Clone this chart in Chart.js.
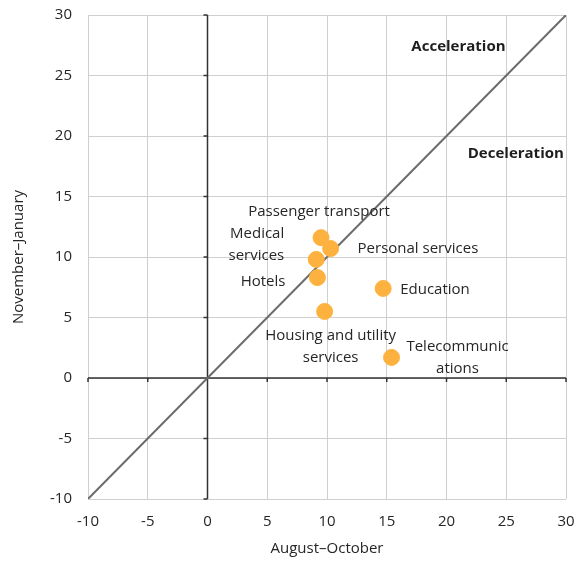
<!DOCTYPE html>
<html>
<head>
<meta charset="utf-8">
<script src="https://cdn.jsdelivr.net/npm/chart.js@4"></script>
<style>
  html, body { margin: 0; padding: 0; background: #fff; }
  #wrap { width: 576px; height: 561px; }
</style>
</head>
<body>
<div id="wrap"><canvas id="myChart"></canvas></div>
<script>
// sectors, Aug-Oct vs Nov-Jan
var sectors = ["Passenger transport", "Personal services", "Medical services", "Hotels",
    "Housing and utility services", "Education", "Telecommunications"];
var augOct = [9.5, 10.3, 9.1, 9.2, 9.8, 14.7, 15.4];
var novJan = [11.6, 10.7, 9.8, 8.3, 5.5, 7.4, 1.7];
var diagX = [-10, 30];
var axisTicks = [-10, -5, 0, 5, 10, 15, 20, 25, 30];

var FONT = "'Open Sans', sans-serif";
var TEXT = "#262626";

// where each sector label sits relative to its dot (pixels)
var labelStyle = [
    { lines: ["Passenger transport"], dx: -2, dy: -26, align: "center" },
    { lines: ["Personal services"], dx: 27, dy: 0, align: "left" },
    { lines: ["Medical", "services"], dx: -32, dy: -26, align: "right" },
    { lines: ["Hotels"], dx: -32, dy: 4, align: "right" },
    { lines: ["Housing and utility", "services"], dx: 6, dy: 24, align: "center" },
    { lines: ["Education"], dx: 17, dy: 1, align: "left" },
    { lines: ["Telecommunic", "ations"], dx: 66, dy: -11, align: "center" }
];
var zoneNotes = [
    { text: "Acceleration", x: 21, y: 27.4 },
    { text: "Deceleration", x: 25.8, y: 18.5 }
];

var points = augOct.map(function (v, i) { return { x: v, y: novJan[i] }; });
var diag = diagX.map(function (v) { return { x: v, y: v }; });

var extras = {
    id: 'extras',
    beforeDatasetsDraw: function (chart) {
        var c = chart.ctx, xs = chart.scales.x, ys = chart.scales.y;
        var x0 = xs.getPixelForValue(0), y0 = ys.getPixelForValue(0);
        c.save();
        c.strokeStyle = '#333';
        c.lineWidth = 1.5;
        c.beginPath();
        c.moveTo(x0, ys.top); c.lineTo(x0, ys.bottom);
        c.moveTo(xs.left, y0); c.lineTo(xs.right, y0);
        axisTicks.forEach(function (t) {
            var py = ys.getPixelForValue(t);
            c.moveTo(x0 - 4, py); c.lineTo(x0, py);
            var px = xs.getPixelForValue(t);
            c.moveTo(px, y0); c.lineTo(px, y0 + 4);
        });
        c.stroke();
        c.restore();
    },
    afterDatasetsDraw: function (chart) {
        var c = chart.ctx, xs = chart.scales.x, ys = chart.scales.y;
        c.save();
        c.fillStyle = TEXT;
        c.textBaseline = 'middle';
        c.font = '15px ' + FONT;
        points.forEach(function (p, i) {
            var s = labelStyle[i];
            var px = xs.getPixelForValue(p.x) + s.dx;
            var py = ys.getPixelForValue(p.y) + s.dy;
            c.textAlign = s.align;
            s.lines.forEach(function (ln, k) {
                c.fillText(ln, px, py + k * 22);
            });
        });
        c.font = 'bold 15px ' + FONT;
        c.fillStyle = '#1e1e1e';
        c.textAlign = 'center';
        zoneNotes.forEach(function (n) {
            c.fillText(n.text, xs.getPixelForValue(n.x), ys.getPixelForValue(n.y));
        });
        c.restore();
    }
};

new Chart("myChart", {
    type: "scatter",
    data: {
        datasets: [{
            label: "y = x",
            type: "line",
            data: diag,
            borderColor: "#6b6b6b",
            borderWidth: 2,
            pointRadius: 0,
            fill: false,
            order: 2
        }, {
            label: "Sectors",
            data: points,
            backgroundColor: "#FDB23F",
            borderColor: "#FDB23F",
            pointRadius: 8,
            pointHoverRadius: 8,
            order: 1
        }]
    },
    options: {
        responsive: true,
        maintainAspectRatio: false,
        animation: false,
        layout: { padding: { top: 15, right: 10, left: 10, bottom: 0 } },
        plugins: {
            legend: { display: false },
            tooltip: { enabled: false }
        },
        scales: {
            x: {
                type: "linear",
                min: -10, max: 30,
                afterBuildTicks: function (s) { s.ticks = axisTicks.map(function (v) { return { value: v }; }); },
                afterFit: function (s) { s.height = 62; s.paddingLeft = 0; s.paddingRight = 0; },
                grid: { color: "#cfcfcf", lineWidth: 1, drawTicks: false },
                border: { display: false },
                ticks: { color: TEXT, font: { family: FONT, size: 15 }, padding: 14 },
                title: { display: true, text: "August–October", color: TEXT,
                    font: { family: FONT, size: 15 }, padding: { top: 1, bottom: 3 } }
            },
            y: {
                type: "linear",
                min: -10, max: 30,
                afterBuildTicks: function (s) { s.ticks = axisTicks.map(function (v) { return { value: v }; }); },
                afterFit: function (s) { s.width = 78; s.paddingTop = 0; s.paddingBottom = 0; },
                grid: { color: "#cfcfcf", lineWidth: 1, drawTicks: false },
                border: { display: false },
                ticks: { color: TEXT, font: { family: FONT, size: 15 }, padding: 16 },
                title: { display: true, text: "November–January", color: TEXT,
                    font: { family: FONT, size: 15 }, padding: { top: 0, bottom: 0 } }
            }
        }
    },
    plugins: [extras]
});
</script>
</body>
</html>
